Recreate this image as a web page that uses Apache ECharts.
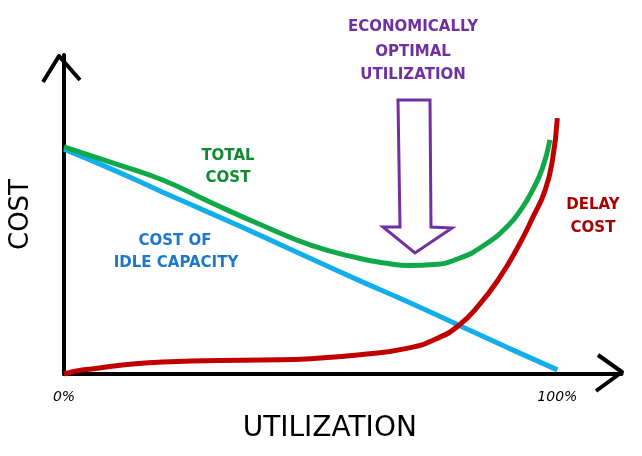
<!DOCTYPE html>
<html>
<head>
<meta charset="utf-8">
<script src="https://cdn.jsdelivr.net/npm/echarts@6/dist/echarts.min.js"></script>
<style>html,body{margin:0;padding:0;background:#fff}#c{width:642px;height:456px}</style>
</head>
<body>
<div id="c"></div>
<script>
// Utilization (%) sample points and cost values
const idleX = [0, 10, 20, 30, 40, 50, 60, 70, 80, 90, 100];
const idleY = [70.5, 64.0, 57.0, 50.2, 43.3, 36.2, 29.2, 22.4, 15.3, 8.2, 1.3];

const totalX = [0, 10, 20, 30, 40, 50, 60, 65, 70, 75, 80, 85, 90, 93, 95, 97, 98.5];
const totalY = [71.2, 66.1, 60.8, 53.6, 46.7, 40.4, 36.2, 34.8, 34.0, 34.3, 36.2, 40.2, 46.5, 52.4, 57.7, 64.6, 73.4];

const delayX = [0, 4, 20, 40, 50, 60, 70, 76, 80, 84, 88, 92, 95, 97.5, 99, 100];
const delayY = [0, 1.3, 3.8, 4.4, 4.8, 6.0, 8.2, 11.4, 15.2, 21.4, 29.5, 39.8, 49.0, 57.5, 67.0, 80.2];

const xTickLabels = ['0%', '100%'];

const zip = (xs, ys) => xs.map((x, i) => [x, ys[i]]);

const chart = echarts.init(document.getElementById('c'));
const font = '"DejaVu Sans", sans-serif';

chart.setOption({
  animation: false,
  backgroundColor: '#fff',
  grid: { left: 61, right: 20.5, top: 55, bottom: 82 },
  xAxis: {
    type: 'value', min: 0, max: 113, interval: 100,
    axisLine: { show: true, lineStyle: { color: '#000', width: 4 } },
    axisTick: { show: false },
    splitLine: { show: false },
    axisLabel: {
      showMaxLabel: false, margin: 16,
      color: '#000', fontSize: 14, fontStyle: 'italic', fontFamily: font,
      formatter: v => v === 0 ? xTickLabels[0] : (v === 100 ? xTickLabels[1] : '')
    },
    name: 'UTILIZATION', nameLocation: 'middle', nameGap: 41,
    nameTextStyle: { color: '#000', fontSize: 28, fontFamily: font, padding: [0, 26, 0, 0] }
  },
  yAxis: {
    type: 'value', min: 0, max: 100,
    axisLine: { show: true, lineStyle: { color: '#000', width: 4 } },
    axisTick: { show: false },
    splitLine: { show: false },
    axisLabel: { show: false },
    name: 'COST', nameLocation: 'middle', nameGap: 30, nameRotate: 90,
    nameTextStyle: { color: '#000', fontSize: 26, fontFamily: font }
  },
  series: [
    { name: 'Cost of idle capacity', type: 'line', smooth: true, symbol: 'none',
      data: zip(idleX, idleY), lineStyle: { color: '#12aeea', width: 5 } },
    { name: 'Total cost', type: 'line', smooth: true, symbol: 'none',
      data: zip(totalX, totalY), lineStyle: { color: '#11a84a', width: 5 } },
    { name: 'Delay cost', type: 'line', smooth: true, symbol: 'none',
      data: zip(delayX, delayY), lineStyle: { color: '#c00000', width: 5 } }
  ],
  graphic: [
    // axis arrow heads
    { type: 'polyline', shape: { points: [[43, 82], [59, 56], [80, 80]] },
      style: { stroke: '#000', lineWidth: 4, fill: null, lineJoin: 'round' } },
    { type: 'polyline', shape: { points: [[598, 355], [622, 372], [596, 391]] },
      style: { stroke: '#000', lineWidth: 4, fill: null, lineJoin: 'round' } },
    // purple arrow
    { type: 'polygon', shape: { points: [[398, 100], [400, 227], [383, 227], [415, 253], [452, 228], [431, 227], [430, 100]] },
      style: { stroke: '#7030a0', lineWidth: 3, fill: null } },
    // annotations
    { type: 'text', x: 413, y: 27, style: { text: 'ECONOMICALLY', fill: '#7030a0', font: 'bold 15px ' + font, align: 'center', verticalAlign: 'middle' } },
    { type: 'text', x: 413, y: 52, style: { text: 'OPTIMAL', fill: '#7030a0', font: 'bold 15px ' + font, align: 'center', verticalAlign: 'middle' } },
    { type: 'text', x: 413, y: 75, style: { text: 'UTILIZATION', fill: '#7030a0', font: 'bold 15px ' + font, align: 'center', verticalAlign: 'middle' } },
    { type: 'text', x: 228, y: 156, style: { text: 'TOTAL', fill: '#108a30', font: 'bold 15px ' + font, align: 'center', verticalAlign: 'middle' } },
    { type: 'text', x: 228, y: 178, style: { text: 'COST', fill: '#108a30', font: 'bold 15px ' + font, align: 'center', verticalAlign: 'middle' } },
    { type: 'text', x: 175, y: 241, style: { text: 'COST OF', fill: '#1c78cc', font: 'bold 15px ' + font, align: 'center', verticalAlign: 'middle' } },
    { type: 'text', x: 176, y: 263, style: { text: 'IDLE CAPACITY', fill: '#1c78cc', font: 'bold 15px ' + font, align: 'center', verticalAlign: 'middle' } },
    { type: 'text', x: 593, y: 205, style: { text: 'DELAY', fill: '#a80000', font: 'bold 15px ' + font, align: 'center', verticalAlign: 'middle' } },
    { type: 'text', x: 593, y: 228, style: { text: 'COST', fill: '#a80000', font: 'bold 15px ' + font, align: 'center', verticalAlign: 'middle' } }
  ]
});
</script>
</body>
</html>
